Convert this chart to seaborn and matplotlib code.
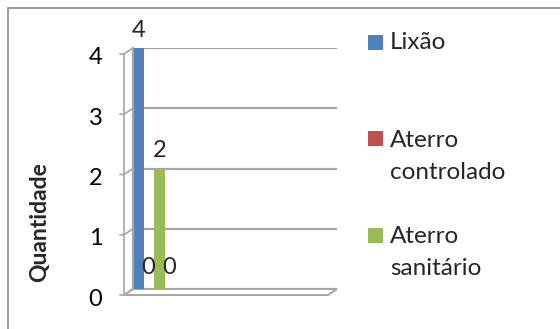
import matplotlib
matplotlib.use("Agg")
import matplotlib.pyplot as plt
import matplotlib.transforms as mtransforms
from matplotlib.patches import Rectangle, Polygon
import seaborn as sns
import pandas as pd

categories = [""]
series = ["Lixão", "Aterro controlado", "Aterro sanitário", "Outro"]
values = [4, 0, 2, 0]
legend_labels = ["Lixão", "Aterro\ncontrolado", "Aterro\nsanitário"]
colors = ["#4F81BD", "#C0504D", "#9BBB59", "#8064A2"]
yticks = [0, 1, 2, 3, 4]

df = pd.DataFrame({"cat": categories * len(series), "serie": series, "valor": values})

sns.set_theme(style="white")
plt.rcParams["font.family"] = ["Lato", "DejaVu Sans"]

W, H = 560, 329
fig = plt.figure(figsize=(W / 100, H / 100), dpi=100)

# outer frame
fig.patches.append(Rectangle((8 / W, -0.1), 1.2, (H - 8) / H + 0.1, transform=fig.transFigure,
                             fill=False, edgecolor="#8c8c8c", linewidth=1.2))

left, right = 133, 337
y0, y4 = 289, 48
ax = fig.add_axes([left / W, (H - y0) / H, (right - left) / W, (y0 - y4) / H])

w = 0.8
sns.barplot(data=df, x="cat", y="valor", hue="serie", palette=colors, width=w,
            dodge=True, ax=ax, legend=False, saturation=1)
for p in ax.patches:
    p.set_edgecolor("none")

group_px = 42
ax.set_xlim(-w / 2, -w / 2 + w * (right - left) / group_px)
ax.set_ylim(0, 4)
ax.set_yticks(yticks)
ax.yaxis.grid(True, color="#a6a6a6", linewidth=1.6)
ax.set_axisbelow(True)
for s in ax.spines.values():
    s.set_visible(False)
ax.set_xticks([])
ax.set_xlabel("")
ax.set_ylabel("")

# tick labels shifted down/left to the 3D front edge
ax.tick_params(axis="y", length=0, labelsize=17, colors="black", pad=22)
off = mtransforms.ScaledTranslation(0, -8 / 100, fig.dpi_scale_trans)
for lab in ax.get_yticklabels():
    lab.set_transform(lab.get_transform() + off)

# 3D wall/floor decoration
ax.plot([0, 0], [0, 1], transform=ax.transAxes, color="#a6a6a6", lw=1.6, clip_on=False)
dx, dy = -9 / (right - left), -6 / (y0 - y4)
ax.plot([dx, dx], [dy, 1 + dy], transform=ax.transAxes, color="#a6a6a6", lw=1.2, clip_on=False)
for t in yticks:
    yy = t / 4
    ax.plot([dx - 0.02, dx, 0], [yy + dy, yy + dy, yy], transform=ax.transAxes,
            color="#a6a6a6", lw=1.2, clip_on=False)
floor = Polygon([[dx, dy], [0, 0], [1, 0], [1 + dx, dy]], closed=True, transform=ax.transAxes,
                facecolor="white", edgecolor="#a6a6a6", lw=1.4, clip_on=False, zorder=0.5)
ax.add_patch(floor)

# data labels
bar_w = w / len(series)
for i, v in enumerate(values):
    xc = -w / 2 + bar_w * (i + 0.5)
    if v > 0:
        ax.text(xc, v + 0.12, str(v), ha="center", va="bottom", fontsize=17, clip_on=False)
    elif i > 0:
        ax.text(xc - bar_w * 0.05, 0.35, str(v), ha="center", va="center", fontsize=17, clip_on=False)

fig.text(40 / W, 1 - 222 / H, "Quantidade", rotation=90, ha="center", va="center",
         fontsize=16.5, fontweight="bold")

# legend (square top y, baselines of text lines)
leg_sq = [35, 131, 228]
leg_base = [[49], [147, 179], [243, 275]]
for lbl, c, sq, bases in zip(legend_labels, colors, leg_sq, leg_base):
    fig.patches.append(Rectangle((368 / W, 1 - (sq + 15) / H), 15 / W, 15 / H,
                                 transform=fig.transFigure, facecolor=c, edgecolor="none"))
    for line, b in zip(lbl.split("\n"), bases):
        fig.text(390 / W, 1 - b / H, line, ha="left", va="baseline", fontsize=17.5)

fig.savefig("out.png", dpi=100)
